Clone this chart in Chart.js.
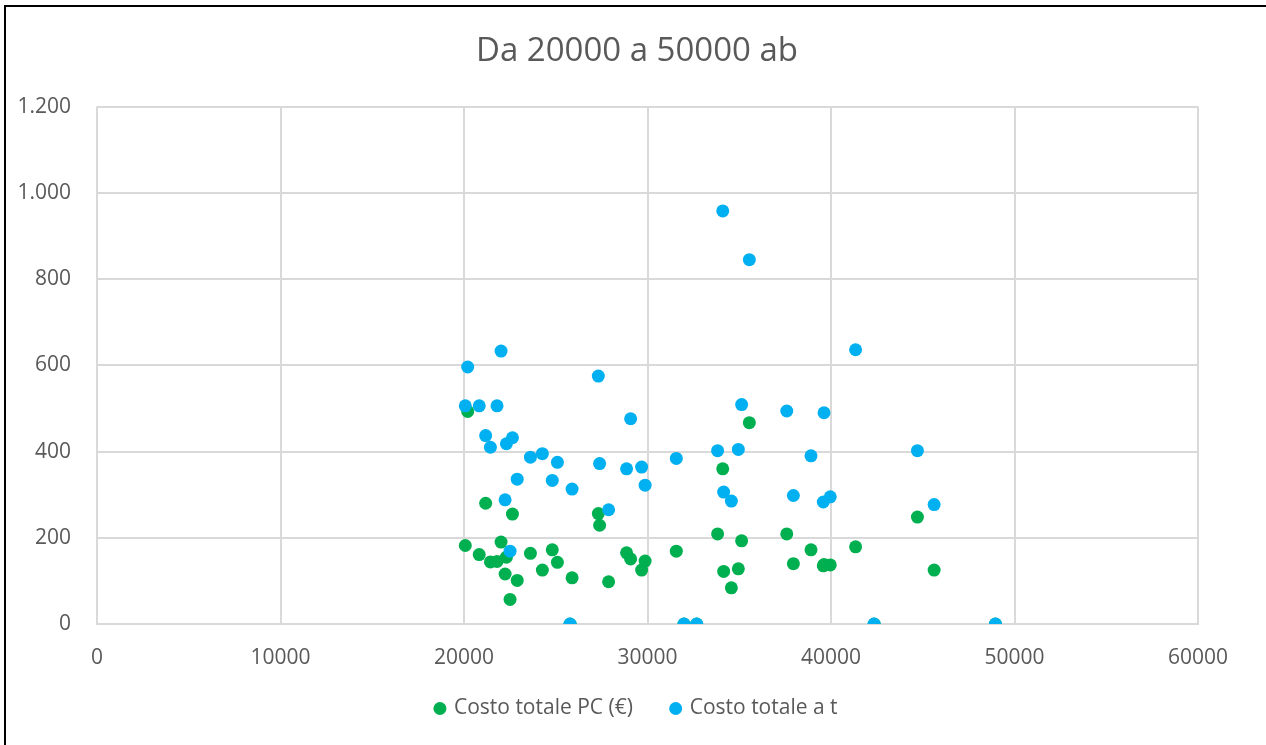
<!DOCTYPE html>
<html>
<head>
<meta charset="utf-8">
<script src="https://cdn.jsdelivr.net/npm/chart.js@4/dist/chart.umd.min.js"></script>
<style>
    html, body { margin: 0; padding: 0; background: #ffffff; }
    #box { position: relative; width: 1266px; height: 745px; overflow: hidden; }
    #frame {
        position: absolute; left: 4px; top: 5px; width: 1270px; height: 760px;
        border-left: 2px solid #000; border-top: 2px solid #000;
        pointer-events: none;
    }
</style>
</head>
<body>
<div id="box">
    <canvas id="grafico" width="1266" height="745"></canvas>
    <div id="frame"></div>
</div>
<script>
// Dati: abitanti e costi
const abitanti = [20070, 20200, 20830, 21180, 21440, 21800, 22020, 22240, 22310, 22510,
    22640, 22900, 23620, 24270, 24810, 25090, 25780, 25890, 27320, 27390,
    27880, 28860, 29080, 29680, 29870, 31570, 31990, 32680, 33820, 34100,
    34150, 34570, 34950, 35130, 35550, 37590, 37950, 38910, 39580, 39620,
    39960, 41340, 42350, 44710, 45620, 48960];
const costoPC = [182, 493, 161, 280, 144, 145, 190, 116, 155, 57,
    255, 101, 164, 125, 172, 143, 0, 107, 256, 229,
    98, 165, 151, 125, 146, 169, 0, 0, 209, 360,
    122, 84, 128, 193, 467, 209, 140, 172, 135, 138,
    137, 179, 0, 248, 125, 0];
const costoT = [506, 596, 506, 437, 410, 506, 633, 288, 418, 169,
    432, 336, 387, 395, 333, 375, 0, 313, 575, 372,
    265, 360, 476, 364, 322, 384, 0, 0, 402, 958,
    306, 285, 405, 509, 845, 494, 298, 390, 283, 490,
    295, 636, 0, 402, 277, 0];
const etichette = ['Costo totale PC (€)', 'Costo totale a t'];
const titolo = 'Da 20000 a 50000 ab';

const grigio = '#595959';
const griglia = '#d9d9d9';
// spazio in più dopo la prima voce della legenda
const spazioLegenda = '\u00a0\u00a0\u00a0\u00a0\u00a0\u200b';

function punti(ys) {
    return abitanti.map((x, i) => ({ x: x, y: ys[i] }));
}

// separatore delle migliaia all'italiana (1.200)
function formatoIt(v) {
    return String(v).replace(/\B(?=(\d{3})+(?!\d))/g, '.');
}

const ctx = document.getElementById('grafico');
new Chart(ctx, {
    type: 'scatter',
    data: {
        datasets: [{
            label: etichette[0] + spazioLegenda,
            data: punti(costoPC),
            backgroundColor: '#00b050',
            borderWidth: 0,
            pointRadius: 6.5,
            pointHoverRadius: 6.5,
            order: 1
        }, {
            label: etichette[1],
            data: punti(costoT),
            backgroundColor: '#00b0f0',
            borderWidth: 0,
            pointRadius: 6.5,
            pointHoverRadius: 6.5,
            order: 0
        }]
    },
    options: {
        responsive: false,
        animation: false,
        layout: { padding: { left: 8, right: 0, top: 0, bottom: 16 } },
        plugins: {
            title: {
                display: true,
                text: titolo,
                color: grigio,
                font: { family: 'Open Sans', size: 33, weight: 'normal' },
                padding: { top: 32, bottom: 35 }
            },
            legend: {
                position: 'bottom',
                labels: {
                    color: grigio,
                    font: { family: 'Open Sans', size: 21 },
                    usePointStyle: true,
                    pointStyle: 'circle',
                    boxWidth: 7,
                    boxHeight: 9.2,
                    padding: 12,
                    sort: (a, b) => a.datasetIndex - b.datasetIndex
                }
            },
            tooltip: { enabled: false }
        },
        scales: {
            x: {
                type: 'linear',
                min: 0,
                max: 60000,
                afterFit: function(scale) { scale.height = 62; },
                grid: { color: griglia, lineWidth: 2, drawTicks: false },
                border: { color: griglia, width: 2 },
                ticks: {
                    stepSize: 10000,
                    color: grigio,
                    padding: 21,
                    font: { family: 'Open Sans', size: 21 },
                    callback: v => String(v)
                }
            },
            y: {
                min: 0,
                max: 1200,
                afterFit: function(scale) { scale.width = 89; },
                grid: { color: griglia, lineWidth: 2, drawTicks: false },
                border: { display: false },
                ticks: {
                    stepSize: 200,
                    color: grigio,
                    padding: 26,
                    font: { family: 'Open Sans', size: 21 },
                    callback: v => formatoIt(v)
                }
            },
            // asse vuoto a destra, solo per lasciare il margine
            destra: {
                type: 'linear',
                position: 'right',
                min: 0,
                max: 1200,
                afterFit: function(scale) { scale.width = 68; },
                grid: { display: false, drawTicks: false },
                border: { display: false },
                ticks: { display: false }
            }
        }
    }
});
</script>
</body>
</html>
